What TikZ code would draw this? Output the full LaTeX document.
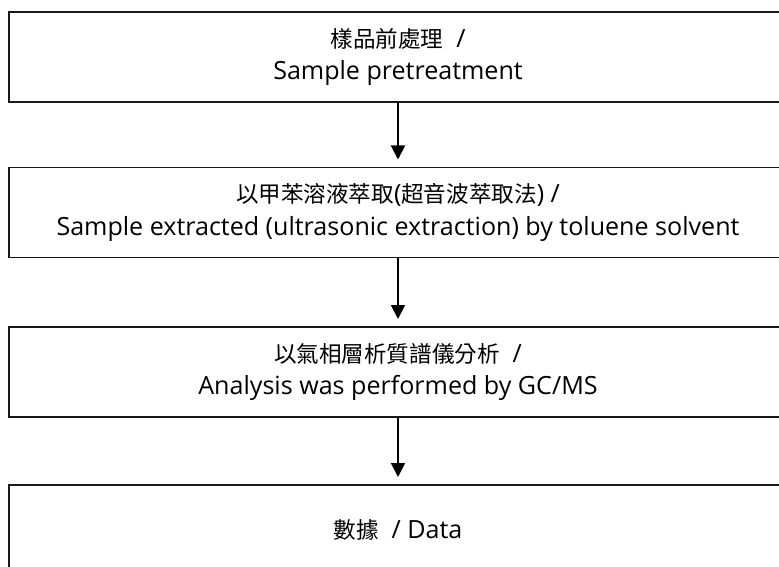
\documentclass[tikz,border=0pt]{standalone}
\usepackage{fontspec}
\setmainfont{Open Sans}
\newfontfamily\cjk[Scale=0.9]{Noto Sans CJK TC}
\usetikzlibrary{arrows.meta,positioning}

\begin{document}
\begin{tikzpicture}[%
        x=0.75pt, y=-0.75pt,
        font=\fontsize{18.8}{24.5}\selectfont,
        schritt/.style={draw=black!90, line width=1.3pt, inner sep=0pt, outer sep=0pt,
            minimum width=583.5pt, minimum height=67.5pt, align=center},
        fluss/.style={-{Triangle[width=10.5pt,length=10.5pt]}, line width=1.4pt, shorten >=6pt},
        >=latex
        ]
            \useasboundingbox (0,0) rectangle (779,567);

            % Kaesten
            \node[schritt] (probe)   at (398,57)    {{\cjk 樣品前處理} \ /\\Sample pretreatment};
            \node[schritt] (extrakt) at (398,212.5) {{\cjk 以甲苯溶液萃取}({\cjk 超音波萃取法}) /\\Sample extracted (ultrasonic extraction) by toluene solvent};
            \node[schritt] (analyse) at (398,372)   {{\cjk 以氣相層析質譜儀分析} \ /\\Analysis was performed by GC/MS};
            \node[schritt] (daten)   at (398,530)   {{\cjk 數據} \ / Data};

            % Pfeile
            \draw[fluss] (probe)   -- (extrakt);
            \draw[fluss] (extrakt) -- (analyse);
            \draw[fluss] (analyse) -- (daten);

        \end{tikzpicture}
\end{document}
